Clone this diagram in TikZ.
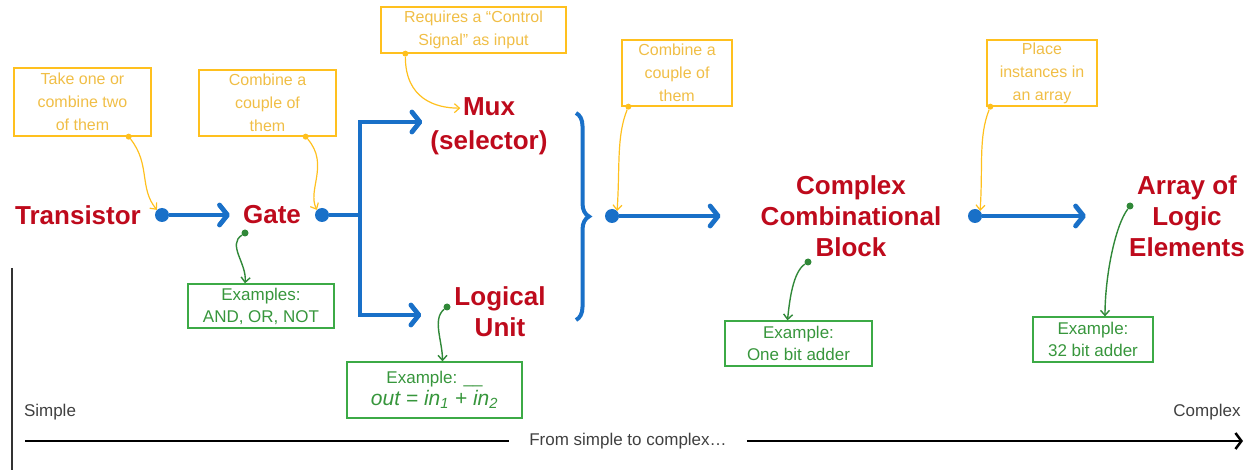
\documentclass[tikz,border=0pt]{standalone}
\usepackage{fontspec}
\setmainfont{Liberation Sans}
\usetikzlibrary{arrows.meta, calc, positioning, decorations.pathreplacing}
\definecolor{stepred}{RGB}{190,10,28}
\definecolor{flowblue}{RGB}{25,112,200}
\definecolor{noteline}{RGB}{255,192,30}
\definecolor{notetext}{RGB}{240,190,70}
\definecolor{exline}{RGB}{60,170,70}
\definecolor{extext}{RGB}{55,150,60}
\tikzset{
	level/.style={text=stepred, font=\fontsize{26}{31}\selectfont\bfseries, align=center, inner sep=0},
	flowdot/.style={shape=circle, fill=flowblue, inner sep=0, minimum size=14pt},
	flow/.style={draw=flowblue, line width=4.8pt, -{Straight Barb[length=8pt,width=20pt,round]}},
	note/.style={draw=noteline, line width=1.3pt, text=notetext, font=\fontsize{16}{23}\selectfont, align=center, inner sep=0},
	example/.style={draw=exline, line width=1.3pt, text=extext, font=\fontsize{17}{22}\selectfont, align=center, inner sep=0},
	notedot/.style={shape=circle, fill=noteline, inner sep=0, minimum size=6pt},
	exdot/.style={shape=circle, fill=exline!80!black, inner sep=0, minimum size=7pt},
	notearrow/.style={draw=noteline, line width=1.2pt, -{Straight Barb[length=5pt,width=9pt]}},
	exarrow/.style={draw=exline!80!black, line width=1.4pt, -{Straight Barb[length=5pt,width=9pt]}},
	scale label/.style={text=black!75, font=\fontsize{17}{20}\selectfont}
}

\begin{document}
\begin{tikzpicture}[x=1pt,y=1pt]
\useasboundingbox (0,0) rectangle (1256,-470);
{%\large
\node[level] (transistor) at (78,-215) {Transistor};
\node[level] (gate) at (272,-215) {Gate};
\node[level, font=\fontsize{26}{34}\selectfont\bfseries] (mux) at (489,-126) {Mux\\(selector)};
\node[level] (logic) at (500,-312) {Logical\\Unit};
\node[level] (ccb) at (851,-216) {Complex\\Combinational\\Block};
\node[level] (array) at (1187,-216) {Array of\\Logic\\Elements};
\node[flowdot] (tdot) at (162,-215) {};
\node[flowdot] (gdot) at (322,-215) {};
\node[flowdot] (bdot) at (612,-216) {};
\node[flowdot] (cdot) at (975,-216) {};
\coordinate (split) at (360,-215);
}
\path[flow] (tdot) -- ([xshift=-13pt]gate.west);
\path[flow, -] (gdot) -- (split);
\path[flow] (split) |- ([xshift=-8pt,yshift=4pt]mux.west);
\path[flow] (split) |- ([xshift=-33pt,yshift=-3pt]logic.west);
\draw[draw=flowblue, line width=4pt, decorate, decoration={brace, amplitude=13pt}] (576,-113) -- (576,-320);
\path[flow] (bdot) -- ([xshift=-40pt]ccb.west);
\path[flow] (cdot) -- ([xshift=-43pt]array.west);

% hints
\node[note, minimum width=137pt, minimum height=68pt] (takenote) at (82.5,-102) {Take one or\\combine two\\of them};
\node[note, minimum width=137pt, minimum height=66pt] (gatenote) at (267.5,-103) {Combine a\\couple of\\them};
\node[note, minimum width=185pt, minimum height=46pt] (muxnote) at (473.5,-30) {Requires a ``Control\\Signal'' as input};
\node[note, minimum width=110pt, minimum height=66pt] (ccbnote) at (677,-73) {Combine a\\couple of\\them};
\node[note, minimum width=110pt, minimum height=66pt] (arraynote) at (1042,-73) {Place\\instances in\\an array};
\node[notedot] (takedot) at ([xshift=-23pt]takenote.south east) {};
\node[notedot] (gatedot) at ([xshift=-31pt]gatenote.south east) {};
\node[notedot] (muxdot) at ([xshift=25pt]muxnote.south west) {};
\node[notedot] (ccbdot) at ([xshift=7pt]ccbnote.south west) {};
\node[notedot] (arraydot) at ([xshift=4pt]arraynote.south west) {};
\path[notearrow] (takedot) .. controls +(22,-28) and +(-18,22) .. (tdot.north west);
\path[notearrow] (gatedot) .. controls +(24,-28) and +(-10,20) .. (gdot.north west);
\path[notearrow] (muxdot) .. controls +(0,-45) and +(-25,0) .. ([xshift=30pt,yshift=-11pt]mux.north west);
\path[notearrow] (ccbdot) .. controls +(-12,-30) and +(3,45) .. (bdot.north east);
\path[notearrow] (arraydot) .. controls +(-12,-30) and +(3,45) .. (cdot.north east);

% examples
\node[example, minimum width=146pt, minimum height=44pt] (gateex) at (261,-306) {Examples:\\AND, OR, NOT};
\node[example, minimum width=175pt, minimum height=56pt] (logicex) at (434.5,-390) {Example: \_\_\\{\fontsize{21}{26}\selectfont\itshape out = in\textsubscript{1} + in\textsubscript{2}}};
\node[example, minimum width=147pt, minimum height=45pt] (ccbex) at (798.5,-343.5) {Example:\\One bit adder};
\node[example, minimum width=120pt, minimum height=45pt] (arrayex) at (1093,-339.5) {Example:\\32 bit adder};
\node[exdot] (gateexdot) at (245,-233) {};
\node[exdot] (logicexdot) at (447,-307) {};
\node[exdot] (ccbexdot) at (808,-262) {};
\node[exdot] (arrayexdot) at (1130,-206) {};
\path[exarrow] (gateexdot) .. controls +(-18,-12) and +(2,20) .. ([xshift=-16pt]gateex.north);
\path[exarrow] (logicexdot) .. controls +(-15,-12) and +(0,20) .. ([xshift=8pt]logicex.north);
\path[exarrow] (ccbexdot) .. controls +(-15,-10) and +(2,20) .. ([xshift=-11pt]ccbex.north);
\path[exarrow] (arrayexdot) .. controls +(-15,-20) and +(0,40) .. ([xshift=12pt]arrayex.north);

{\normalsize
\draw[line width=2pt, draw=black!80] (12,-268) -- (12,-470);
\node[scale label] (simple) at (50,-412) {Simple};
\node[scale label] (complex) at (1207,-412) {Complex};
\coordinate (axstart) at (25,-441);
\coordinate (axend) at (1243,-441);
\node[scale label, inner sep=20pt] (axlabel) at (628,-441) {From simple to complex\ldots};
\draw[line width=2.5pt] (axstart) -- (axlabel.west);
\draw[line width=2.5pt, -{Straight Barb[length=6pt,width=16pt]}] (axlabel.east) -- (axend);
}
\end{tikzpicture}
\end{document}
